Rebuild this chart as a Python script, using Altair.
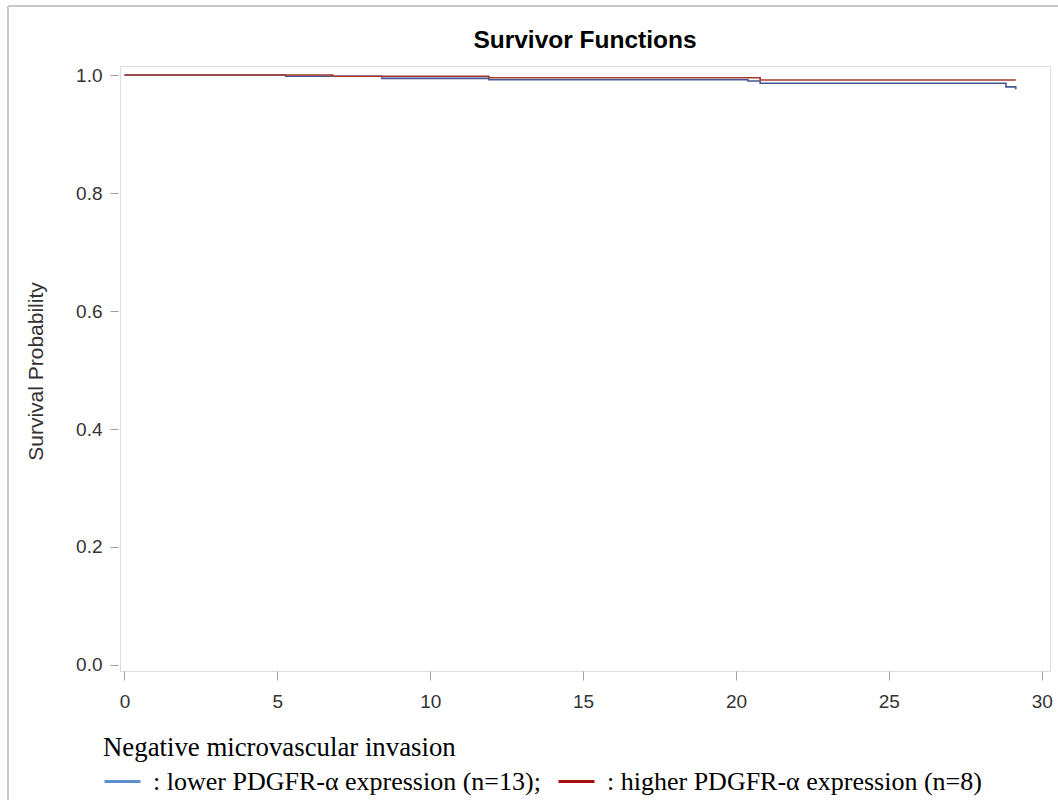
import altair as alt
import pandas as pd

# ---- data ----
group_names = ["lower", "higher"]
legend_labels = [": lower PDGFR-\u03b1 expression (n=13);", ": higher PDGFR-\u03b1 expression (n=8)"]

lower_time = [0, 5.27, 8.42, 11.92, 20.39, 20.79, 28.83, 29.15]
lower_surv = [1.0, 0.998, 0.9944, 0.992, 0.990, 0.986, 0.980, 0.976]

higher_time = [0, 6.81, 11.92, 20.79, 29.15]
higher_surv = [1.0, 0.998, 0.9955, 0.9915, 0.9915]

x_ticks = [0, 5, 10, 15, 20, 25, 30]
y_ticks = [0.0, 0.2, 0.4, 0.6, 0.8, 1.0]

line_colors = ["#445694", "#A23A2E"]
legend_colors = ["#5B8FCF", "#A50F0F"]

rows = []
for t, s in zip(lower_time, lower_surv):
    rows.append({"time": t, "surv": s, "group": group_names[0], "order": len(rows)})
for t, s in zip(higher_time, higher_surv):
    rows.append({"time": t, "surv": s, "group": group_names[1], "order": len(rows)})
df = pd.DataFrame(rows)
label_map = dict(zip(group_names, legend_labels))
df["label"] = df["group"].map(label_map)

x_enc = alt.X(
    "time:Q",
    scale=alt.Scale(domain=[-0.147, 30.27], nice=False, zero=False),
    axis=alt.Axis(
        values=x_ticks, title=None, domain=False, grid=False,
        tickSize=9, tickColor="#A0A0A0", labelPadding=12,
        labelFont="Liberation Sans", labelFontSize=19, labelColor="#333333",
        labelFlush=False,
    ),
)
y_enc = alt.Y(
    "surv:Q",
    scale=alt.Scale(domain=[-0.0102, 1.0153], nice=False, zero=False),
    axis=alt.Axis(
        values=y_ticks, format=".1f", title="Survival Probability",
        domain=False, grid=False, offset=2,
        tickSize=8, tickColor="#A0A0A0", labelPadding=8,
        labelFont="Liberation Sans", labelFontSize=19, labelColor="#333333",
        labelFlush=False,
        titleFont="Liberation Sans", titleFontSize=21, titleFontWeight="normal",
        titleColor="#333333", titleX=-72, titleY=305,
    ),
)

lines = alt.Chart(df).mark_line(interpolate="step-after", strokeWidth=1.6).encode(
    x=x_enc,
    y=y_enc,
    color=alt.Color("group:N", scale=alt.Scale(domain=group_names, range=line_colors), legend=None),
    order="order:Q",
)

legend_layer = alt.Chart(df).mark_line(opacity=0).encode(
    x="time:Q",
    y="surv:Q",
    stroke=alt.Stroke(
        "label:N",
        scale=alt.Scale(domain=legend_labels, range=legend_colors),
        legend=alt.Legend(
            title="Negative microvascular invasion",
            orient="none", legendX=-17, legendY=669,
            direction="horizontal", columns=2,
            symbolType="stroke", symbolSize=1296, symbolStrokeWidth=3,
            symbolOpacity=1,
            labelFont="Liberation Serif", labelFontSize=26, labelColor="#000000",
            labelOffset=11, columnPadding=11, labelLimit=1000,
            titleFont="Liberation Serif", titleFontSize=26.8, titleFontWeight="normal",
            titleColor="#000000", titlePadding=0, titleLimit=1000,
            padding=0,
        ),
    ),
)

frame_top = alt.Chart(df).mark_rule(color="#C8C8C8", strokeWidth=1).encode(
    x=alt.value(-112), x2=alt.value(940), y=alt.value(-60)
)
frame_left = alt.Chart(df).mark_rule(color="#C8C8C8", strokeWidth=1).encode(
    x=alt.value(-112), y=alt.value(-60), y2=alt.value(740)
)

chart = alt.layer(lines, legend_layer, frame_top, frame_left).resolve_scale(
    stroke="independent", color="independent"
).properties(
    width=930,
    height=605,
    title=alt.TitleParams(
        "Survivor Functions", font="Liberation Sans", fontSize=24.5, fontWeight="bold",
        color="#000000", anchor="middle", offset=-48,
    ),
    autosize=alt.AutoSizeParams(type="none"),
    padding={"left": 120, "top": 66, "right": 8, "bottom": 129},
).configure_view(
    stroke="#A5A8AD", strokeWidth=1.2
).configure(background="white")

chart.save("out.html", embed_options={"renderer": "svg", "actions": False})
